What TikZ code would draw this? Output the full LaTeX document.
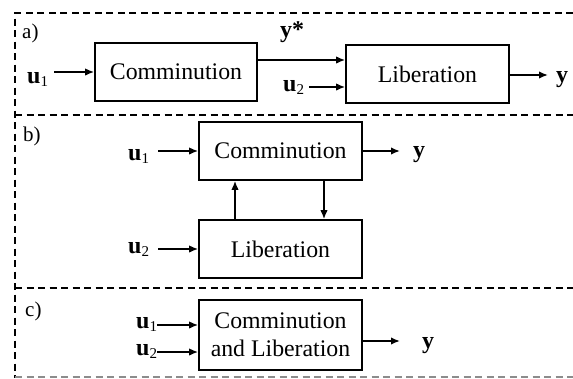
\documentclass[tikz,border=0pt]{standalone}
\usepackage{fontspec}
\setmainfont{Liberation Serif}
\usetikzlibrary{arrows.meta}
\newcommand{\bvec}[2]{\textbf{#1}\raisebox{-0.28ex}{\fontsize{15}{15}\selectfont #2}}
\tikzset{
  blk/.style={draw, line width=1.8pt, inner sep=0pt, font=\fontsize{23.8}{27}\selectfont, align=center},
  sig/.style={line width=1.6pt, -{Latex[length=9pt,width=7.5pt]}},
  lbl/.style={anchor=base west, inner sep=0pt, font=\fontsize{24}{24}\selectfont},
  tag/.style={anchor=base west, inner sep=0pt, font=\fontsize{21}{21}\selectfont},
  frame/.style={line width=1.3pt, dash pattern=on 7pt off 4.5pt},
}
\begin{document}
\begin{tikzpicture}[x=1pt, y=-1pt]
\useasboundingbox (0,0) rectangle (573,378);

% panel frames
\draw[frame] (573,13) -- (15,13) -- (15,378);
\draw[frame] (15,115) -- (573,115);
\draw[frame] (15,288) -- (573,288);
\draw[frame, black!45] (15,377) -- (573,377);

% ---- panel a: series arrangement
\node[tag] (ta) at (22,38) {a)};
\node[blk, minimum width=162pt, minimum height=58pt] (ca) at (176,72) {Comminution};
\node[blk, minimum width=163pt, minimum height=58pt] (la) at (427.5,74) {Liberation};
\node[lbl] (ua1) at (27,83) {\bvec{u}{1}};
\node[lbl] (ua2) at (283,91) {\bvec{u}{2}};
\node[lbl] (ys) at (280,37) {\textbf{y*}};
\node[lbl] (ya) at (556,82) {\textbf{y}};
\coordinate (ua1e) at (54,72);
\coordinate (ua2e) at (309,87);
\coordinate (yae) at (548,75);
\draw[sig] (ua1e) -- (ca.west |- ua1e);
\draw[sig] (ca.east |- 0,60) -- (la.west |- 0,60);
\draw[sig] (ua2e) -- (la.west |- ua2e);
\draw[sig] (la.east |- yae) -- (yae);

% ---- panel b: coupled loop
\node[tag] (tb) at (23,141) {b)};
\node[blk, minimum width=163pt, minimum height=58pt] (cb) at (280.5,151) {Comminution};
\node[blk, minimum width=163pt, minimum height=58pt] (lb) at (280.5,249) {Liberation};
\node[lbl] (ub1) at (128,160) {\bvec{u}{1}};
\node[lbl] (ub2) at (128,253) {\bvec{u}{2}};
\node[lbl] (yb) at (413,157) {\textbf{y}};
\coordinate (ub1e) at (158,151);
\coordinate (ub2e) at (158,249);
\coordinate (ybe) at (400,151);
\draw[sig] (ub1e) -- (cb.west |- ub1e);
\draw[sig] (ub2e) -- (lb.west |- ub2e);
\draw[sig] (cb.east |- ybe) -- (ybe);
\draw[sig] (lb.north -| 235,0) -- (cb.south -| 235,0);
\draw[sig] (cb.south -| 324,0) -- (lb.north -| 324,0);

% ---- panel c: combined unit
\node[tag] (tc) at (25,316) {c)};
\node[blk, minimum width=163pt, minimum height=70pt] (cc) at (280.5,335) {Comminution\\[1pt]and Liberation};
\node[lbl] (uc1) at (136,328) {\bvec{u}{1}};
\node[lbl] (uc2) at (136,355) {\bvec{u}{2}};
\node[lbl] (yc) at (422,348) {\textbf{y}};
\coordinate (uc1e) at (157,325);
\coordinate (uc2e) at (157,352);
\coordinate (yce) at (400,341);
\draw[sig] (uc1e) -- (cc.west |- uc1e);
\draw[sig] (uc2e) -- (cc.west |- uc2e);
\draw[sig] (cc.east |- yce) -- (yce);
\end{tikzpicture}
\end{document}
